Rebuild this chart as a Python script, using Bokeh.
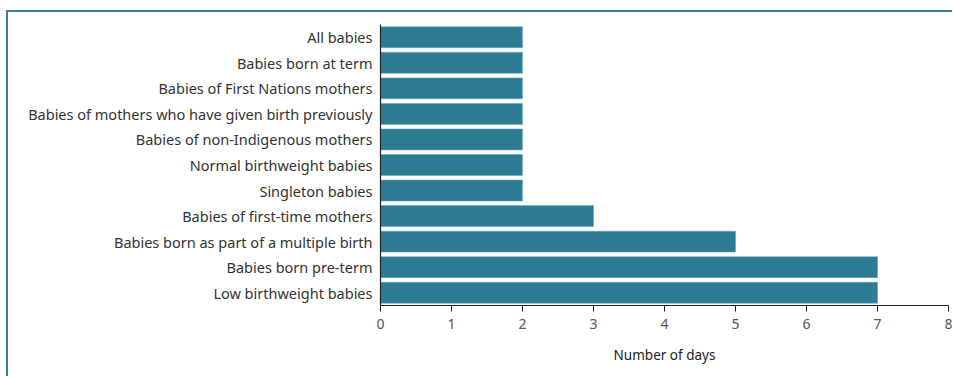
from bokeh.plotting import figure
from bokeh.models import FactorRange, Range1d, ColumnDataSource, FixedTicker
from bokeh.embed import file_html
from bokeh.resources import INLINE

categories = [
    "All babies",
    "Babies born at term",
    "Babies of First Nations mothers",
    "Babies of mothers who have given birth previously",
    "Babies of non-Indigenous mothers",
    "Normal birthweight babies",
    "Singleton babies",
    "Babies of first-time mothers",
    "Babies born as part of a multiple birth",
    "Babies born pre-term",
    "Low birthweight babies",
]
days = [2, 2, 2, 2, 2, 2, 2, 3, 5, 7, 7]
x_ticks = [0, 1, 2, 3, 4, 5, 6, 7, 8]

source = ColumnDataSource(dict(cat=categories, days=days))

FONT = "Noto Sans"

p = figure(
    width=946, height=366,
    y_range=FactorRange(factors=list(reversed(categories))),
    x_range=Range1d(0, 8),
    output_backend="svg", toolbar_location=None,
    min_border_left=372, min_border_right=6,
    min_border_top=12, min_border_bottom=73,
)
p.styles = {"border-left": "2px solid #3b7f95", "border-top": "2px solid #3b7f95",
            "margin-left": "6px", "margin-top": "10px"}

p.hbar(y="cat", right="days", left=0, height=0.82, source=source,
       fill_color="#2e7c93", line_color="#6aa9bb", line_width=0.6)

p.outline_line_color = None
p.grid.grid_line_color = None
p.background_fill_color = "white"
p.border_fill_color = "white"

# y axis
p.yaxis.axis_line_color = "#222222"
p.yaxis.axis_line_width = 1.2
p.yaxis.major_tick_line_color = None
p.yaxis.minor_tick_line_color = None
p.yaxis.major_label_text_font = FONT
p.yaxis.major_label_text_font_size = "14.5px"
p.yaxis.major_label_text_color = "#333333"
p.yaxis.major_label_standoff = 2

# x axis
p.xaxis.ticker = FixedTicker(ticks=x_ticks)
p.xaxis.axis_line_color = "#222222"
p.xaxis.axis_line_width = 1.2
p.xaxis.major_tick_line_color = "#222222"
p.xaxis.major_tick_in = 0
p.xaxis.major_tick_out = 6
p.xaxis.minor_tick_line_color = None
p.xaxis.major_label_text_font = FONT
p.xaxis.major_label_text_font_size = "14px"
p.xaxis.major_label_text_color = "#555555"
p.xaxis.major_label_standoff = 7
p.xaxis.axis_label = "Number of days"
p.xaxis.axis_label_text_font = FONT
p.xaxis.axis_label_text_font_size = "13.5px"
p.xaxis.axis_label_text_font_style = "normal"
p.xaxis.axis_label_text_color = "#222222"
p.xaxis.axis_label_standoff = 14

open("out.html", "w").write(file_html(p, INLINE))
